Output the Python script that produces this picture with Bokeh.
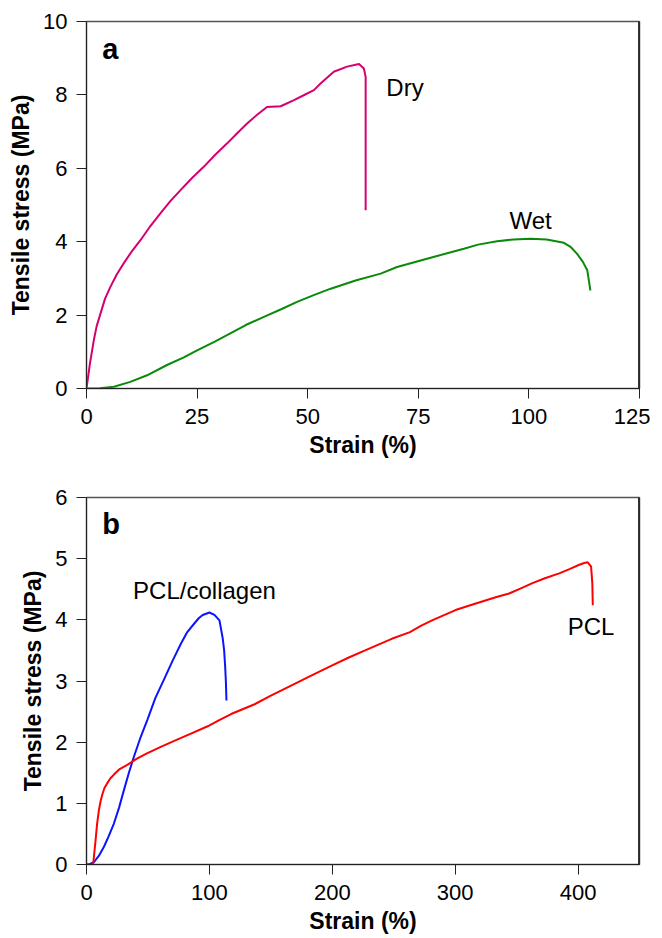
from bokeh.plotting import figure
from bokeh.layouts import column
from bokeh.models import Range1d, FixedTicker, Span, Label
from bokeh.embed import file_html
from bokeh.resources import INLINE

# Panel a data
dry_strain = [0, 0.8, 1.66, 2.3, 3.16, 4.2, 5.4, 6.8, 8.4, 10.2, 12.2, 14.4, 16.7, 18.9, 21.2, 23.8, 26.5, 29.1, 31.8, 34.0, 36.3, 38.5, 40.8, 43.9, 46.9, 49.1, 51.4, 52.9, 55.9, 58.9, 61.6, 62.7, 63.1, 63.1]
dry_stress = [0, 0.7, 1.32, 1.7, 2.04, 2.45, 2.77, 3.1, 3.41, 3.73, 4.04, 4.42, 4.77, 5.1, 5.40, 5.73, 6.04, 6.37, 6.68, 6.95, 7.22, 7.45, 7.67, 7.69, 7.86, 7.99, 8.13, 8.31, 8.63, 8.77, 8.84, 8.72, 8.49, 4.86]
wet_strain = [0, 3.0, 6.2, 9.9, 13.7, 18.2, 22.0, 25.0, 29.0, 32.5, 36.0, 40.1, 44.0, 47.6, 51.5, 55.2, 61.0, 66.5, 70.2, 78.0, 85.3, 88.5, 92.8, 96.5, 100.4, 104.0, 107.9, 109.5, 110.9, 112.2, 113.2, 113.9]
wet_stress = [0, 0.01, 0.05, 0.18, 0.36, 0.64, 0.85, 1.04, 1.28, 1.50, 1.73, 1.95, 2.16, 2.36, 2.55, 2.72, 2.95, 3.13, 3.31, 3.57, 3.81, 3.92, 4.01, 4.06, 4.08, 4.06, 3.97, 3.85, 3.67, 3.45, 3.22, 2.67]

# Panel b data
col_strain = [0, 3, 6, 10, 14.2, 18, 22.3, 26.5, 30.5, 34.5, 38.7, 44, 49.6, 56, 63.2, 70, 76.8, 82, 87.7, 91.5, 94.6, 100, 104.1, 108.2, 110.9, 112, 112.8, 113.4, 113.9]
col_stress = [0, 0.01, 0.04, 0.14, 0.29, 0.46, 0.67, 0.93, 1.22, 1.5, 1.77, 2.08, 2.37, 2.72, 3.03, 3.33, 3.61, 3.8, 3.94, 4.03, 4.08, 4.12, 4.08, 3.99, 3.69, 3.5, 3.25, 3.0, 2.68]
pcl_strain = [5.4, 6.3, 7.4, 8.6, 10.1, 11.4, 12.8, 14.6, 16.9, 19.5, 22.3, 27, 33.2, 41, 49.6, 60, 71.4, 85, 98.6, 108, 117.7, 136.8, 150, 164, 182, 199.5, 213, 226.7, 238, 248.4, 263.2, 272, 281.2, 290, 300.3, 311, 322, 333, 343.9, 353, 362.9, 373, 384.7, 393, 401, 405, 407.9, 410.6, 411.6, 412]
pcl_stress = [0, 0.18, 0.40, 0.66, 0.89, 1.03, 1.14, 1.25, 1.33, 1.41, 1.47, 1.56, 1.63, 1.73, 1.82, 1.92, 2.02, 2.14, 2.26, 2.36, 2.46, 2.62, 2.76, 2.90, 3.08, 3.25, 3.38, 3.50, 3.60, 3.69, 3.80, 3.90, 3.99, 4.07, 4.16, 4.23, 4.30, 4.37, 4.43, 4.51, 4.60, 4.68, 4.76, 4.83, 4.90, 4.93, 4.94, 4.87, 4.6, 4.24]

FONT = "Liberation Sans"


def make_fig(h, top, bottom, xr, yr, xticks, yticks):
    p = figure(width=650, height=h, output_backend="svg", toolbar_location=None,
               x_range=Range1d(*xr), y_range=Range1d(*yr),
               min_border_left=86, min_border_right=11,
               min_border_top=top, min_border_bottom=bottom)
    p.grid.visible = False
    p.outline_line_color = "#555555"
    p.outline_line_width = 1.5
    p.background_fill_color = "white"
    p.border_fill_color = "white"
    for ax, ticks in ((p.xaxis, xticks), (p.yaxis, yticks)):
        ax.ticker = FixedTicker(ticks=ticks)
        ax.minor_tick_line_color = None
        ax.major_tick_in = 0
        ax.major_tick_out = 10
        ax.major_tick_line_color = "#222222"
        ax.axis_line_color = "#222222"
        ax.major_label_text_font = FONT
        ax.major_label_text_font_size = "22px"
        ax.major_label_text_color = "black"
        ax.axis_label_text_font = FONT
        ax.axis_label_text_font_size = "23px"
        ax.axis_label_text_font_style = "bold"
        ax.axis_label_text_color = "black"
    p.xaxis.major_label_standoff = 10
    p.yaxis.major_label_standoff = 9
    p.xaxis.axis_label_standoff = 5
    p.yaxis.axis_label_standoff = 6
    p.xaxis.axis_label = "Strain (%)"
    p.yaxis.axis_label = "Tensile stress (MPa)"
    p.add_layout(Span(location=xr[1], dimension="height", line_color="black", line_width=2.5))
    return p


def label(p, x, y, text, size, bold=False):
    p.add_layout(Label(x=x, y=y, text=text, text_font=FONT, text_font_size=size,
                       text_font_style="bold" if bold else "normal", text_color="black",
                       text_align="center", text_baseline="middle"))


p1 = make_fig(462, 21, 74, (0, 125), (0, 10), [0, 25, 50, 75, 100, 125], [0, 2, 4, 6, 8, 10])
p1.line(dry_strain, dry_stress, line_color="#d6006f", line_width=2)
p1.line(wet_strain, wet_stress, line_color="#0a8a0a", line_width=2)
label(p1, 5.4, 9.26, "a", "29px", True)
label(p1, 72, 8.2, "Dry", "24px")
label(p1, 100.4, 4.58, "Wet", "24px")

p2 = make_fig(476, 35, 74, (0, 450), (0, 6), [0, 100, 200, 300, 400], [0, 1, 2, 3, 4, 5, 6])
p2.line(col_strain, col_stress, line_color="#0a14ff", line_width=2)
p2.line(pcl_strain, pcl_stress, line_color="#ff0000", line_width=2)
label(p2, 20, 5.57, "b", "29px", True)
label(p2, 96, 4.48, "PCL/collagen", "24px")
label(p2, 410.6, 3.89, "PCL", "24px")

layout = column(p1, p2, spacing=0)
open("out.html", "w").write(file_html(layout, INLINE))
